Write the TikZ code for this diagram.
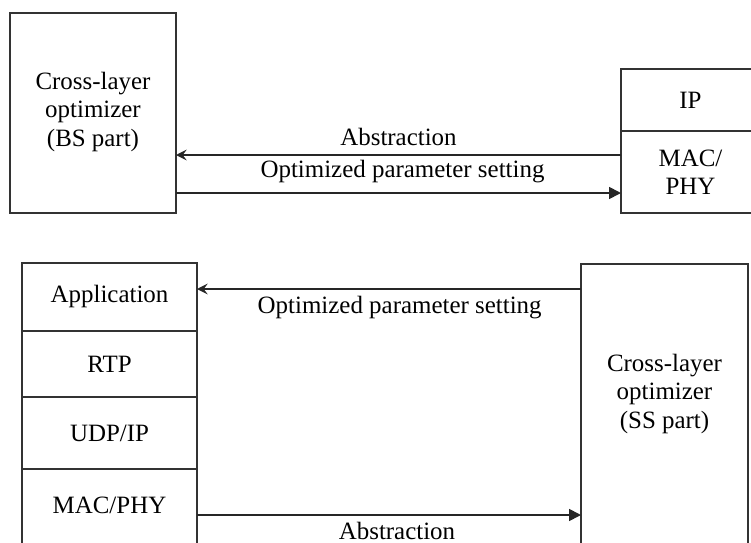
\documentclass[tikz,border=0pt]{standalone}
\usepackage{fontspec}
\setmainfont{Liberation Serif}
\usetikzlibrary{arrows.meta,positioning}
\begin{document}
\begin{tikzpicture}[x=0.75pt,y=-0.75pt,
    txt/.style={font=\fontsize{18.7}{21.3}\selectfont},
    box/.style={txt,draw=black!80,line width=1.3pt,inner sep=0pt,outer sep=0pt,align=center},
    flow/.style={draw=black!85,line width=1.3pt},
    back/.style={flow,-{Stealth[length=8pt,width=8pt,inset=3pt]}},
    forth/.style={flow,-{Triangle[length=9pt,width=9pt]}},
    lbl/.style={txt,inner sep=0pt}]
  \useasboundingbox (0,0) rectangle (751,543);
  \node[box,minimum width=124.5pt,minimum height=150pt,text depth=6pt] (bs) at (93,113)
    {Cross-layer\\optimizer\\(BS part)};
  \node[box,minimum width=104.25pt,minimum height=46.5pt] (ip) at (690.5,100) {IP};
  \node[box,minimum width=104.25pt,minimum height=61.5pt,below=0pt of ip] (macphy) {MAC/\\PHY};
  \node[box,minimum width=131.25pt,minimum height=51pt] (app) at (109.5,297) {Application};
  \node[box,minimum width=131.25pt,minimum height=49.5pt,below=0pt of app] (rtp) {RTP};
  \node[box,minimum width=131.25pt,minimum height=54pt,below=0pt of rtp] (udpip) {UDP/IP};
  \node[box,minimum width=131.25pt,minimum height=68.25pt,below=0pt of udpip,
    text height=14pt,text depth=16pt] (macphyss) {MAC/PHY};
  \node[box,minimum width=125.25pt,minimum height=222pt,text depth=31pt] (ss) at (664.5,412)
    {Cross-layer\\optimizer\\(SS part)};
  \draw[back] (macphy.west |- 0,155) -- node[lbl,above=6.5pt] (abstop) {Abstraction} (bs.east |- 0,155);
  \draw[forth] (bs.east |- 0,193) -- node[lbl,above=7pt,xshift=3pt] (opttop) {Optimized parameter setting} (macphy.west |- 0,193);
  \draw[back] (ss.west |- 0,289) -- node[lbl,below=5pt,xshift=8pt] (optbot) {Optimized parameter setting} (app.east |- 0,289);
  \draw[forth] (macphyss.east |- 0,515) -- node[lbl,below=4.5pt,xshift=6pt] (absbot) {Abstraction} (ss.west |- 0,515);
\end{tikzpicture}
\end{document}
